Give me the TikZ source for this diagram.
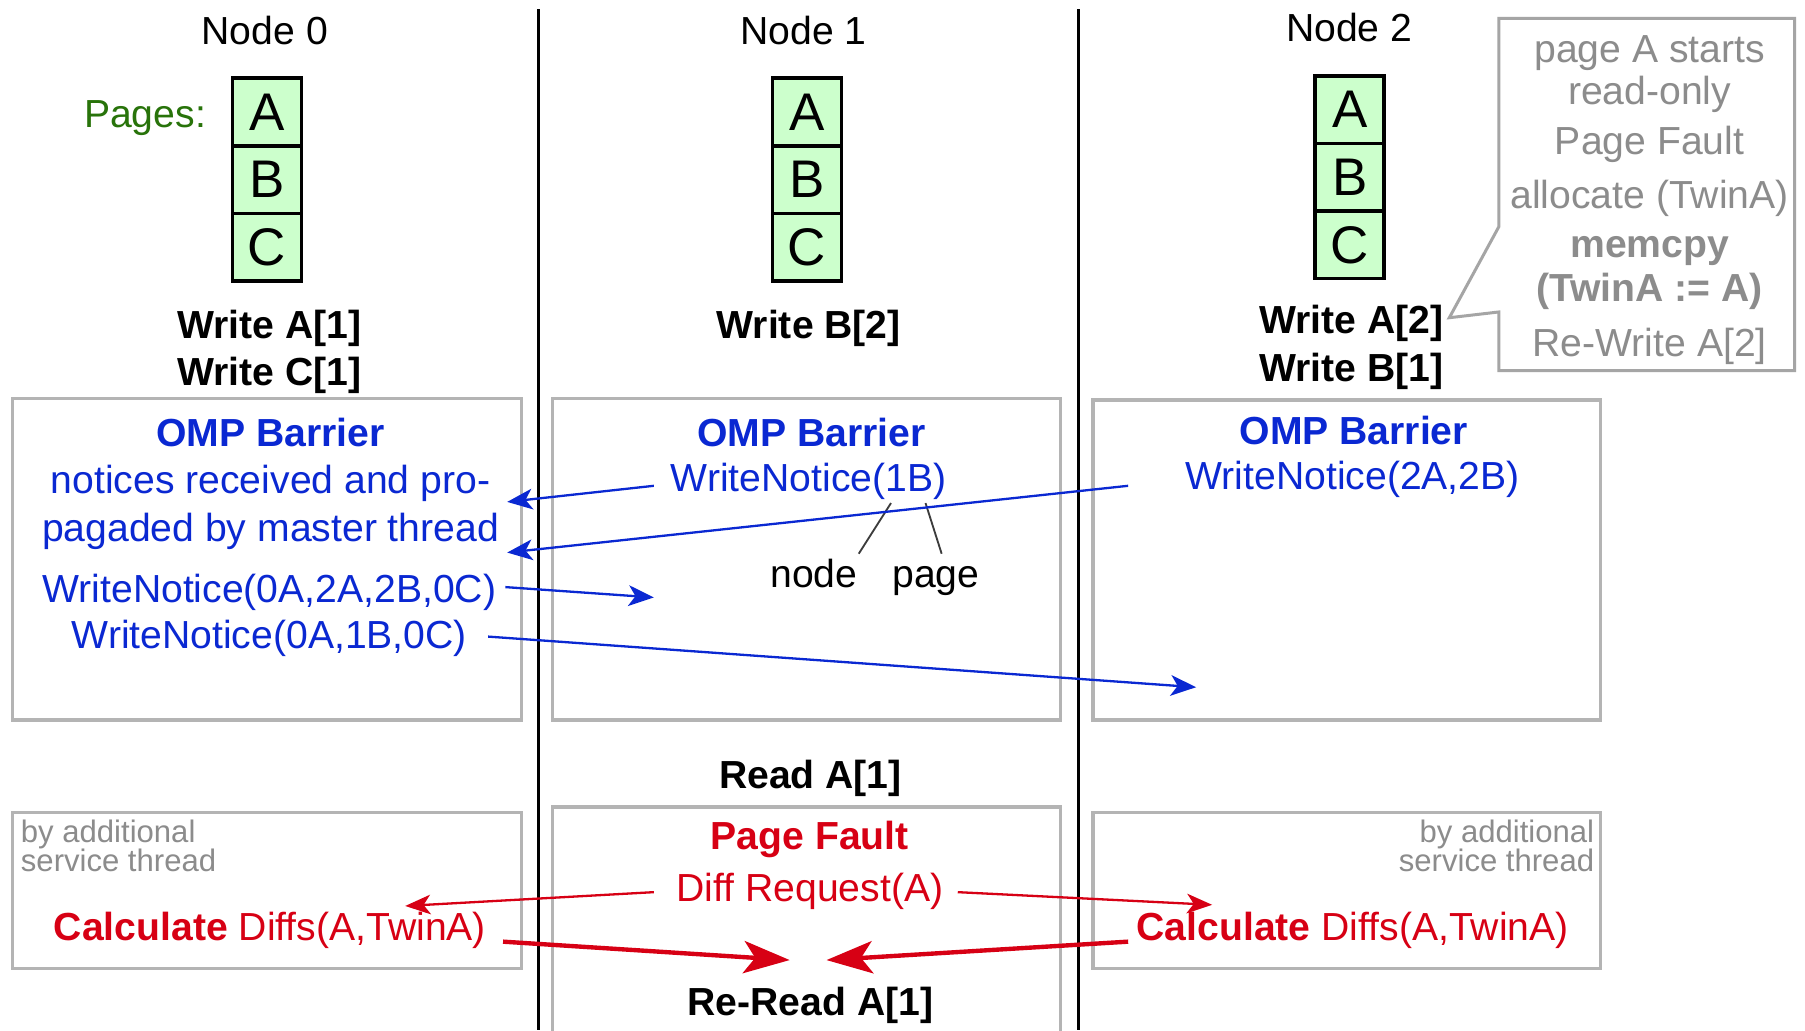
\documentclass[tikz,border=0pt]{standalone}
\usepackage{fontspec}
\setmainfont{Liberation Sans}
\usetikzlibrary{arrows.meta}
\definecolor{ompblue}{RGB}{10,40,210}
\definecolor{ompred}{RGB}{215,0,20}
\definecolor{pagegreen}{RGB}{40,115,10}
\definecolor{cellgreen}{RGB}{204,255,204}
\definecolor{boxgray}{RGB}{180,180,180}
\definecolor{callgray}{RGB}{165,165,165}
\definecolor{calltext}{RGB}{140,140,140}
\definecolor{ptrgray}{RGB}{60,60,60}
\tikzset{
  txt/.style={font=\fontsize{34}{40}\selectfont, inner sep=0pt, anchor=base},
  bld/.style={font=\fontsize{34}{40}\selectfont\bfseries, inner sep=0pt, anchor=base},
  small/.style={font=\fontsize{27}{25}\selectfont, inner sep=0pt, text=calltext},
  cell/.style={draw=black, line width=3.2pt, fill=cellgreen, minimum width=60pt,
    minimum height=58.7pt, inner sep=0pt, font=\fontsize{46}{50}\selectfont},
  ompbox/.style={draw=boxgray, line width=2.8pt, inner sep=0pt},
  vline/.style={draw=black, line width=3pt},
  barr/.style={draw=ompblue, line width=2pt, -{Stealth[length=22pt,width=18pt,inset=6pt]}},
  rarr/.style={draw=ompred, line width=2pt, -{Stealth[length=22pt,width=17pt,inset=6pt]}},
  rthick/.style={draw=ompred, line width=3.8pt, -{Stealth[length=40pt,width=28pt,inset=10pt]}},
  ptr/.style={draw=ptrgray, line width=1.6pt},
}
\begin{document}
\begin{tikzpicture}[x=1pt,y=-1pt]
\useasboundingbox (0,0) rectangle (1568,895);
\fill[white] (0,0) rectangle (1568,895);

% vertical separators
\coordinate (v1t) at (468,8); \coordinate (v1b) at (468,895);
\coordinate (v2t) at (937,8); \coordinate (v2b) at (937,895);
\draw[vline] (v1t) -- (v1b);
\draw[vline] (v2t) -- (v2b);

% headers
\node[txt] (n0) at (230,39) {Node 0};
\node[txt] (n1) at (698,39) {Node 1};
\node[txt] (n2) at (1172,36) {Node 2};
\node[txt, text=pagegreen] (pages) at (126,111) {Pages:};

% page cells
\node[cell] (a0) at (232,97.3) {A};
\node[cell] (b0) at (232,156) {B};
\node[cell] (c0) at (232,214.7) {C};
\node[cell] (a1) at (701,97.3) {A};
\node[cell] (b1) at (701,156) {B};
\node[cell] (c1) at (701,214.7) {C};
\node[cell] (a2) at (1172.5,95.3) {A};
\node[cell] (b2) at (1172.5,154) {B};
\node[cell] (c2) at (1172.5,212.7) {C};

% writes
\node[bld] (w0a) at (234,294) {Write A[1]};
\node[bld] (w0c) at (234,335) {Write C[1]};
\node[bld] (w1b) at (702.5,294) {Write B[2]};
\node[bld] (w2a) at (1174,290) {Write A[2]};
\node[bld] (w2b) at (1174,331) {Write B[1]};

% callout
\coordinate (ctip) at (1259,276);
\draw[draw=callgray, line width=2.6pt] (1302,16) -- (1559,16) -- (1559,322) -- (1302,322)
  -- (1302,271) -- (ctip) -- (1302,197) -- cycle;
\node[txt, text=calltext] (c1l) at (1433,54) {page A starts};
\node[txt, text=calltext] (c2l) at (1433,91) {read-only};
\node[txt, text=calltext] (c3l) at (1433,134) {Page Fault};
\node[txt, text=calltext] (c4l) at (1433,181) {allocate (TwinA)};
\node[bld, text=calltext] (c5l) at (1433,224) {memcpy};
\node[bld, text=calltext] (c6l) at (1433,262) {(TwinA := A)};
\node[txt, text=calltext] (c7l) at (1433,310) {Re-Write A[2]};

% barrier boxes
\node[ompbox, minimum width=442pt, minimum height=279pt] (box0) at (231.7,486) {};
\node[ompbox, minimum width=441pt, minimum height=279pt] (box1) at (700.5,486) {};
\node[ompbox, minimum width=440.5pt, minimum height=278pt] (box2) at (1169.75,486.5) {};

\node[bld, text=ompblue] (omp0) at (235,388) {OMP Barrier};
\node[txt, text=ompblue] (not1) at (235,429) {notices received and pro-};
\node[txt, text=ompblue] (not2) at (235,470) {pagaded by master thread};
\node[txt, text=ompblue] (wn0a) at (234,523) {WriteNotice(0A,2A,2B,0C)};
\node[txt, text=ompblue] (wn0b) at (234,563) {WriteNotice(0A,1B,0C)};
\node[bld, text=ompblue] (omp1) at (705,388) {OMP Barrier};
\node[txt, text=ompblue] (wn1) at (702.5,427) {WriteNotice(1B)};
\node[bld, text=ompblue] (omp2) at (1176,386) {OMP Barrier};
\node[txt, text=ompblue] (wn2) at (1175,425) {WriteNotice(2A,2B)};

\node[txt] (lnode) at (707,510) {node};
\node[txt] (lpage) at (813,510) {page};
\coordinate (pn1) at (774,437); \coordinate (pn2) at (746,481);
\coordinate (pp1) at (804,437); \coordinate (pp2) at (818,481);
\draw[ptr] (pn1) -- (pn2);
\draw[ptr] (pp1) -- (pp2);

% blue arrows
\coordinate (b1s) at (568,422); \coordinate (b1e) at (440.6,436);
\coordinate (b2s) at (980,422); \coordinate (b2e) at (440.6,480);
\coordinate (b3s) at (439,510); \coordinate (b3e) at (568,519);
\coordinate (b4s) at (424,553); \coordinate (b4e) at (1039,597);
\draw[barr] (b1s) -- (b1e);
\draw[barr] (b2s) -- (b2e);
\draw[barr] (b3s) -- (b3e);
\draw[barr] (b4s) -- (b4e);

% lower part
\node[bld] (read) at (704,685) {Read A[1]};
\node[ompbox, minimum width=442pt, minimum height=135pt] (lowL) at (231.7,773.5) {};
\node[ompbox, minimum width=440.5pt, minimum height=135pt] (lowR) at (1169.75,773.5) {};
\coordinate (mbl) at (480,897); \coordinate (mtl) at (480,701);
\coordinate (mtr) at (921,701); \coordinate (mbr) at (921,897);
\draw[draw=boxgray, line width=2.8pt] (mbl) -- (mtl) -- (mtr) -- (mbr);

\node[small, anchor=base west] (sl1) at (18,732) {by additional};
\node[small, anchor=base west] (sl2) at (18,757) {service thread};
\node[small, anchor=base east] (sr1) at (1385,732) {by additional};
\node[small, anchor=base east] (sr2) at (1385,757) {service thread};

\node[txt, text=ompred] (calcL) at (234.5,817) {\textbf{Calculate} Diffs(A,TwinA)};
\node[txt, text=ompred] (calcR) at (1175,817) {\textbf{Calculate} Diffs(A,TwinA)};
\node[bld, text=ompred] (pf) at (703.5,738) {Page Fault};
\node[txt, text=ompred] (dr) at (703.6,783) {Diff Request(A)};
\node[bld] (reread) at (704,882) {Re-Read A[1]};

% red arrows
\coordinate (r1s) at (568,775); \coordinate (r1e) at (352,787);
\coordinate (r2s) at (832,775); \coordinate (r2e) at (1053,786);
\coordinate (r3s) at (437,818); \coordinate (r3e) at (686,834);
\coordinate (r4s) at (980,818); \coordinate (r4e) at (718,834);
\draw[rarr] (r1s) -- (r1e);
\draw[rarr] (r2s) -- (r2e);
\draw[rthick] (r3s) -- (r3e);
\draw[rthick] (r4s) -- (r4e);
\end{tikzpicture}
\end{document}
